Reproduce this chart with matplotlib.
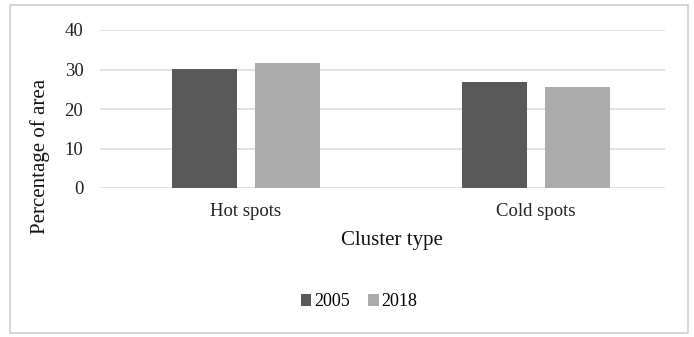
import matplotlib
matplotlib.use("Agg")
import matplotlib.pyplot as plt
import numpy as np
from matplotlib.patches import Rectangle

# Share of area in each cluster type, by year
cluster_types = ["Hot spots", "Cold spots"]
years = ["2005", "2018"]
pct_2005 = [30.1, 26.8]
pct_2018 = [31.6, 25.6]
y_ticks = [0, 10, 20, 30, 40]

colors = ["#595959", "#ababab"]
W, H = 694, 337

plt.rcParams["font.family"] = ["Liberation Serif", "DejaVu Serif"]

fig = plt.figure(figsize=(W / 100, H / 100), dpi=100)
fig.patch.set_facecolor("white")

# outer chart frame
fig.add_artist(Rectangle((10 / W, 4 / H), 678 / W, 328 / H, transform=fig.transFigure,
                         fill=False, edgecolor="#cfcfcf", linewidth=1.2))

ax = fig.add_axes([100 / W, (H - 188) / H, 565 / W, 158 / H])

x = np.arange(len(cluster_types))
bar_w = 0.224
offset = 0.142
ax.bar(x - offset, pct_2005, width=bar_w, color=colors[0], label=years[0], zorder=3)
ax.bar(x + offset, pct_2018, width=bar_w, color=colors[1], label=years[1], zorder=3)

ax.set_xlim(-0.503, 1.445)
ax.set_ylim(0, 40)
ax.set_yticks(y_ticks)
ax.set_xticks(x)
ax.set_xticklabels(cluster_types)
ax.tick_params(axis="both", length=0, labelsize=13.5, colors="#222222")
ax.tick_params(axis="y", pad=12)
ax.tick_params(axis="x", pad=11)
ax.yaxis.grid(True, color="#dadada", linewidth=1.1, zorder=0)
ax.set_axisbelow(True)
for s in ax.spines.values():
    s.set_visible(False)

fig.text(392 / W, 1 - 241 / H, "Cluster type", ha="center", va="center",
         fontsize=15, color="#111111")
fig.text(40 / W, 1 - 156 / H, "Percentage of area", ha="center", va="center",
         rotation=90, fontsize=15, color="#111111")

fig.legend(loc="center", bbox_to_anchor=(359 / W, 1 - 302 / H), ncol=2, frameon=False,
           fontsize=13, handlelength=0.6, handleheight=0.6, handletextpad=0.15,
           columnspacing=1.0)

fig.savefig("out.png", dpi=100)
